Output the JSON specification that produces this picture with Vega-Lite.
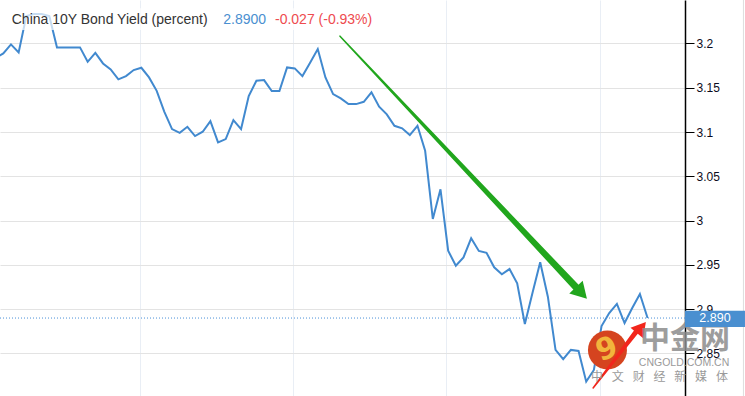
{
  "$schema": "https://vega.github.io/schema/vega-lite/v6.json",
  "width": 685,
  "height": 396,
  "autosize": {"type": "none"},
  "padding": {"left": 0, "right": 60, "top": 0, "bottom": 0},
  "background": "#ffffff",
  "config": {
    "view": {"stroke": null},
    "font": "Liberation Sans",
    "axis": {"labelFont": "Liberation Sans"}
  },
  "datasets": {
    "bond": [
      {"i": -1, "yield": 3.1834}, {"i": 0, "yield": 3.1887}, {"i": 1, "yield": 3.1989}, {"i": 2, "yield": 3.1898},
      {"i": 3, "yield": 3.2308}, {"i": 4, "yield": 3.2331}, {"i": 5, "yield": 3.2331}, {"i": 6, "yield": 3.2308},
      {"i": 7, "yield": 3.1955}, {"i": 8, "yield": 3.1955}, {"i": 9, "yield": 3.1955}, {"i": 10, "yield": 3.1955},
      {"i": 11, "yield": 3.1792}, {"i": 12, "yield": 3.1894}, {"i": 13, "yield": 3.1774}, {"i": 14, "yield": 3.1707},
      {"i": 15, "yield": 3.1594}, {"i": 16, "yield": 3.1631}, {"i": 17, "yield": 3.1699}, {"i": 18, "yield": 3.1725},
      {"i": 19, "yield": 3.1616}, {"i": 20, "yield": 3.1465}, {"i": 21, "yield": 3.1228}, {"i": 22, "yield": 3.1033},
      {"i": 23, "yield": 3.0991}, {"i": 24, "yield": 3.1059}, {"i": 25, "yield": 3.0954}, {"i": 26, "yield": 3.1003},
      {"i": 27, "yield": 3.1123}, {"i": 28, "yield": 3.0883}, {"i": 29, "yield": 3.0920}, {"i": 30, "yield": 3.1135},
      {"i": 31, "yield": 3.1033}, {"i": 32, "yield": 3.1405}, {"i": 33, "yield": 3.1578}, {"i": 34, "yield": 3.1586},
      {"i": 35, "yield": 3.1462}, {"i": 36, "yield": 3.1462}, {"i": 37, "yield": 3.1729}, {"i": 38, "yield": 3.1718},
      {"i": 39, "yield": 3.1631}, {"i": 40, "yield": 3.1781}, {"i": 41, "yield": 3.1936}, {"i": 42, "yield": 3.1616},
      {"i": 43, "yield": 3.1428}, {"i": 44, "yield": 3.1379}, {"i": 45, "yield": 3.1315}, {"i": 46, "yield": 3.1315},
      {"i": 47, "yield": 3.1341}, {"i": 48, "yield": 3.1447}, {"i": 49, "yield": 3.1285}, {"i": 50, "yield": 3.1199},
      {"i": 51, "yield": 3.1070}, {"i": 52, "yield": 3.1041}, {"i": 53, "yield": 3.0965}, {"i": 54, "yield": 3.1070},
      {"i": 55, "yield": 3.0788}, {"i": 56, "yield": 3.0018}, {"i": 57, "yield": 3.0353}, {"i": 58, "yield": 2.9660},
      {"i": 59, "yield": 2.9491}, {"i": 60, "yield": 2.9585}, {"i": 61, "yield": 2.9800}, {"i": 62, "yield": 2.9657},
      {"i": 63, "yield": 2.9637}, {"i": 64, "yield": 2.9473}, {"i": 65, "yield": 2.9394}, {"i": 66, "yield": 2.9453},
      {"i": 67, "yield": 2.9292}, {"i": 68, "yield": 2.8833}, {"i": 69, "yield": 2.9186}, {"i": 70, "yield": 2.9529},
      {"i": 71, "yield": 2.9141}, {"i": 72, "yield": 2.8540}, {"i": 73, "yield": 2.8435}, {"i": 74, "yield": 2.8540},
      {"i": 75, "yield": 2.8528}, {"i": 76, "yield": 2.8182}, {"i": 77, "yield": 2.8314}, {"i": 78, "yield": 2.8810},
      {"i": 79, "yield": 2.8957}, {"i": 80, "yield": 2.9059}, {"i": 81, "yield": 2.8844}, {"i": 82, "yield": 2.9013},
      {"i": 83, "yield": 2.9171}, {"i": 84, "yield": 2.8900}
    ]
  },
  "resolve": {"scale": {"size": "independent"}},
  "layer": [
    {
      "data": {"name": "bond"},
      "mark": {"type": "line", "color": "#4189cf", "strokeWidth": 2, "clip": true, "interpolate": "linear"},
      "encoding": {
        "x": {
          "field": "i", "type": "quantitative",
          "scale": {"domain": [-0.43, 88.88], "nice": false, "zero": false},
          "axis": {"title": null, "labels": false, "ticks": false, "domain": false, "grid": true,
                   "values": [17.82, 37.77, 57.72, 77.8], "gridColor": "#e9eef5", "gridWidth": 1}
        },
        "y": {
          "field": "yield", "type": "quantitative",
          "scale": {"domain": [2.802, 3.249], "nice": false, "zero": false},
          "axis": {"title": null, "orient": "right", "values": [2.85, 2.9, 2.95, 3, 3.05, 3.1, 3.15, 3.2],
                   "format": "~f", "domainColor": "#000000", "domainWidth": 1.5, "tickColor": "#000000",
                   "tickSize": 9, "labelPadding": 2, "labelFontSize": 12, "labelColor": "#0b0b20",
                   "gridColor": "#e3e3e3", "gridWidth": 1}
        }
      }
    },
    {
      "data": {"values": [{"edge": 96.5}]},
      "mark": {"type": "rule", "color": "#dddddd", "strokeWidth": 1},
      "encoding": {"x": {"field": "edge", "type": "quantitative"}}
    },
    {
      "data": {"values": [{"level": 2.89}]},
      "mark": {"type": "rule", "color": "#4a90d9", "strokeWidth": 1, "strokeDash": [1, 2]},
      "encoding": {"y": {"field": "level", "type": "quantitative"}}
    },
    {
      "data": {"values": [{"x1": 0.5, "x2": 48.8, "y1": 3.2398, "y2": 3.2150}]},
      "mark": {"type": "rect", "color": "#ffffff", "opacity": 0.7},
      "encoding": {
        "x": {"field": "x1", "type": "quantitative"}, "x2": {"field": "x2"},
        "y": {"field": "y1", "type": "quantitative"}, "y2": {"field": "y2"}
      }
    },
    {
      "data": {"values": [
        {"i": 1.1, "yield": 3.2218, "label": "China 10Y Bond Yield (percent)", "kind": "name"},
        {"i": 28.68, "yield": 3.2218, "label": "2.8900", "kind": "last"},
        {"i": 35.42, "yield": 3.2218, "label": "-0.027 (-0.93%)", "kind": "change"}
      ]},
      "mark": {"type": "text", "align": "left", "baseline": "alphabetic", "fontSize": 14, "font": "Liberation Sans"},
      "encoding": {
        "x": {"field": "i", "type": "quantitative"},
        "y": {"field": "yield", "type": "quantitative"},
        "text": {"field": "label"},
        "color": {"field": "kind", "type": "nominal",
                  "scale": {"domain": ["name", "last", "change"], "range": ["#333333", "#4a8fd0", "#ee4b4f"]},
                  "legend": null}
      }
    },
    {
      "data": {"values": [
        {"i": 43.9, "yield": 3.2082, "t": 0},
        {"i": 74.77, "yield": 2.9239, "t": 1}
      ]},
      "mark": {"type": "trail", "color": "#21a61d"},
      "encoding": {
        "x": {"field": "i", "type": "quantitative"},
        "y": {"field": "yield", "type": "quantitative"},
        "size": {"field": "t", "type": "quantitative", "scale": {"domain": [0, 1], "range": [1.5, 7]}, "legend": null}
      }
    },
    {
      "data": {"values": [{"i": 75.38, "yield": 2.9183}]},
      "mark": {"type": "point", "shape": "triangle-up", "filled": true, "opacity": 1, "color": "#21a61d", "size": 340, "angle": 136.7},
      "encoding": {
        "x": {"field": "i", "type": "quantitative"},
        "y": {"field": "yield", "type": "quantitative"}
      }
    },
    {
      "data": {"values": [{"i": 78.77, "yield": 2.8540}]},
      "mark": {"type": "point", "shape": "circle", "filled": true, "opacity": 1, "color": "#d5441f", "size": 1521},
      "encoding": {
        "x": {"field": "i", "type": "quantitative"},
        "y": {"field": "yield", "type": "quantitative"}
      }
    },
    {
      "data": {"values": [{"i": 78.7, "yield": 2.8545, "glyph": "9"}]},
      "mark": {"type": "text", "align": "center", "baseline": "middle", "fontSize": 30, "fontWeight": "bold", "font": "DejaVu Sans", "color": "#f2b53c", "angle": -20},
      "encoding": {
        "x": {"field": "i", "type": "quantitative"},
        "y": {"field": "yield", "type": "quantitative"},
        "text": {"field": "glyph"}
      }
    },
    {
      "data": {"values": [
        {"i": 76.9, "yield": 2.8111, "t": 0},
        {"i": 82.49, "yield": 2.8743, "t": 1}
      ]},
      "mark": {"type": "trail", "color": "#f2261c"},
      "encoding": {
        "x": {"field": "i", "type": "quantitative"},
        "y": {"field": "yield", "type": "quantitative"},
        "size": {"field": "t", "type": "quantitative", "scale": {"domain": [0, 1], "range": [1.5, 5]}, "legend": null}
      }
    },
    {
      "data": {"values": [{"i": 83.19, "yield": 2.8794}]},
      "mark": {"type": "point", "shape": "triangle-up", "filled": true, "opacity": 1, "color": "#f2261c", "size": 270, "angle": 39.4},
      "encoding": {
        "x": {"field": "i", "type": "quantitative"},
        "y": {"field": "yield", "type": "quantitative"}
      }
    },
    {
      "data": {"values": [{"i": 88.88, "yield": 2.8669, "label": "中金网"}]},
      "mark": {"type": "text", "align": "center", "baseline": "middle", "fontSize": 30, "fontWeight": "bold", "font": "Noto Sans CJK SC", "color": "#8c8c8c", "opacity": 0.85},
      "encoding": {
        "x": {"field": "i", "type": "quantitative"},
        "y": {"field": "yield", "type": "quantitative"},
        "text": {"field": "label"}
      }
    },
    {
      "data": {"values": [{"i": 88.75, "yield": 2.8387, "label": "CNGOLD.COM.CN"}]},
      "mark": {"type": "text", "align": "center", "baseline": "middle", "fontSize": 10.5, "font": "Liberation Sans", "color": "#9a9a9a"},
      "encoding": {
        "x": {"field": "i", "type": "quantitative"},
        "y": {"field": "yield", "type": "quantitative"},
        "text": {"field": "label"}
      }
    },
    {
      "data": {"values": [
        {"i": 77.41, "yield": 2.8229, "ch": "中"},
        {"i": 80.12, "yield": 2.8229, "ch": "文"},
        {"i": 82.84, "yield": 2.8229, "ch": "财"},
        {"i": 85.55, "yield": 2.8229, "ch": "经"},
        {"i": 88.27, "yield": 2.8229, "ch": "新"},
        {"i": 90.98, "yield": 2.8229, "ch": "媒"},
        {"i": 93.70, "yield": 2.8229, "ch": "体"}
      ]},
      "mark": {"type": "text", "align": "center", "baseline": "middle", "fontSize": 12, "font": "Noto Sans CJK SC", "color": "#9a9a9a"},
      "encoding": {
        "x": {"field": "i", "type": "quantitative"},
        "y": {"field": "yield", "type": "quantitative"},
        "text": {"field": "ch"}
      }
    },
    {
      "data": {"values": [{"x1": 88.88, "x2": 96.7, "y1": 2.8981, "y2": 2.8799}]},
      "mark": {"type": "rect", "color": "#4a8fd0"},
      "encoding": {
        "x": {"field": "x1", "type": "quantitative"}, "x2": {"field": "x2"},
        "y": {"field": "y1", "type": "quantitative"}, "y2": {"field": "y2"}
      }
    },
    {
      "data": {"values": [{"i": 92.79, "yield": 2.8895, "label": "2.890"}]},
      "mark": {"type": "text", "align": "center", "baseline": "middle", "fontSize": 12.5, "font": "Liberation Sans", "color": "#ffffff"},
      "encoding": {
        "x": {"field": "i", "type": "quantitative"},
        "y": {"field": "yield", "type": "quantitative"},
        "text": {"field": "label"}
      }
    }
  ]
}
